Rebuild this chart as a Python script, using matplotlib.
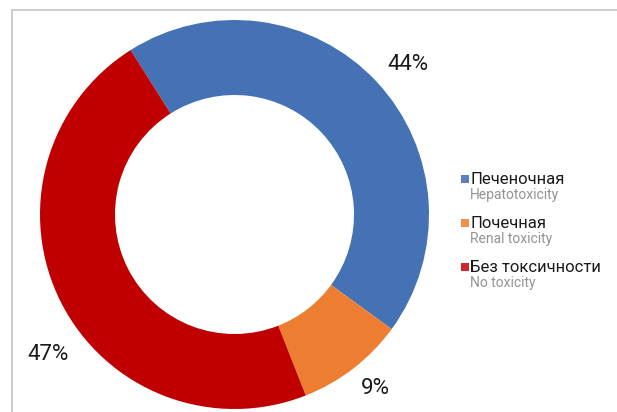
import matplotlib.pyplot as plt
from matplotlib.patches import Rectangle

# toxicity share, %
names_ru = ['Печеночная', 'Почечная', 'Без токсичности']
names_en = ['Hepatotoxicity', 'Renal toxicity', 'No toxicity']
shares = [44, 9, 47]
colors = ['#4472B4', '#ED7D31', '#C00000']
legend_colors = ['#5A80C2', '#F0904A', '#CC2A2A']

W, H = 617, 412
plt.rcParams['font.family'] = ['Roboto', 'DejaVu Sans']

fig = plt.figure(figsize=(W / 100, H / 100), dpi=100)
ax = fig.add_axes([0, 0, 1, 1])

# frame of the chart area
ax.plot([12, 12], [0, H - 10], color='#c4c4c4', lw=1.2)
ax.plot([12, W], [H - 10, H - 10], color='#c4c4c4', lw=1.2)

cx, cy = 234.5, H - 214.5
r_out, r_in = 194.5, 119.5
ax.pie(shares, colors=colors, startangle=122.3, counterclock=False,
       center=(cx, cy), radius=r_out, frame=True,
       wedgeprops=dict(width=r_out - r_in, linewidth=0))
ax.set_xlim(0, W)
ax.set_ylim(0, H)
ax.set_aspect('equal')
ax.axis('off')

# outside value labels
label_xy = [(408, H - 64), (375, H - 388), (48, H - 355)]
for v, (x, y) in zip(shares, label_xy):
    ax.text(x, y, f'{v}%', fontsize=16, color='#1a1a1a',
            ha='center', va='center')

# legend
for i, (ru, en, c) in enumerate(zip(names_ru, names_en, legend_colors)):
    y0 = H - 179 - i * 44
    ax.add_patch(Rectangle((461, y0 - 4), 7.5, 8, color=c, lw=0))
    ax.text(470, y0, ru, fontsize=12, color='#1a1a1a', va='center', ha='left')
    ax.text(470, y0 - 16, en, fontsize=10, color='#939393', va='center', ha='left')

fig.savefig('out.png', dpi=100)
